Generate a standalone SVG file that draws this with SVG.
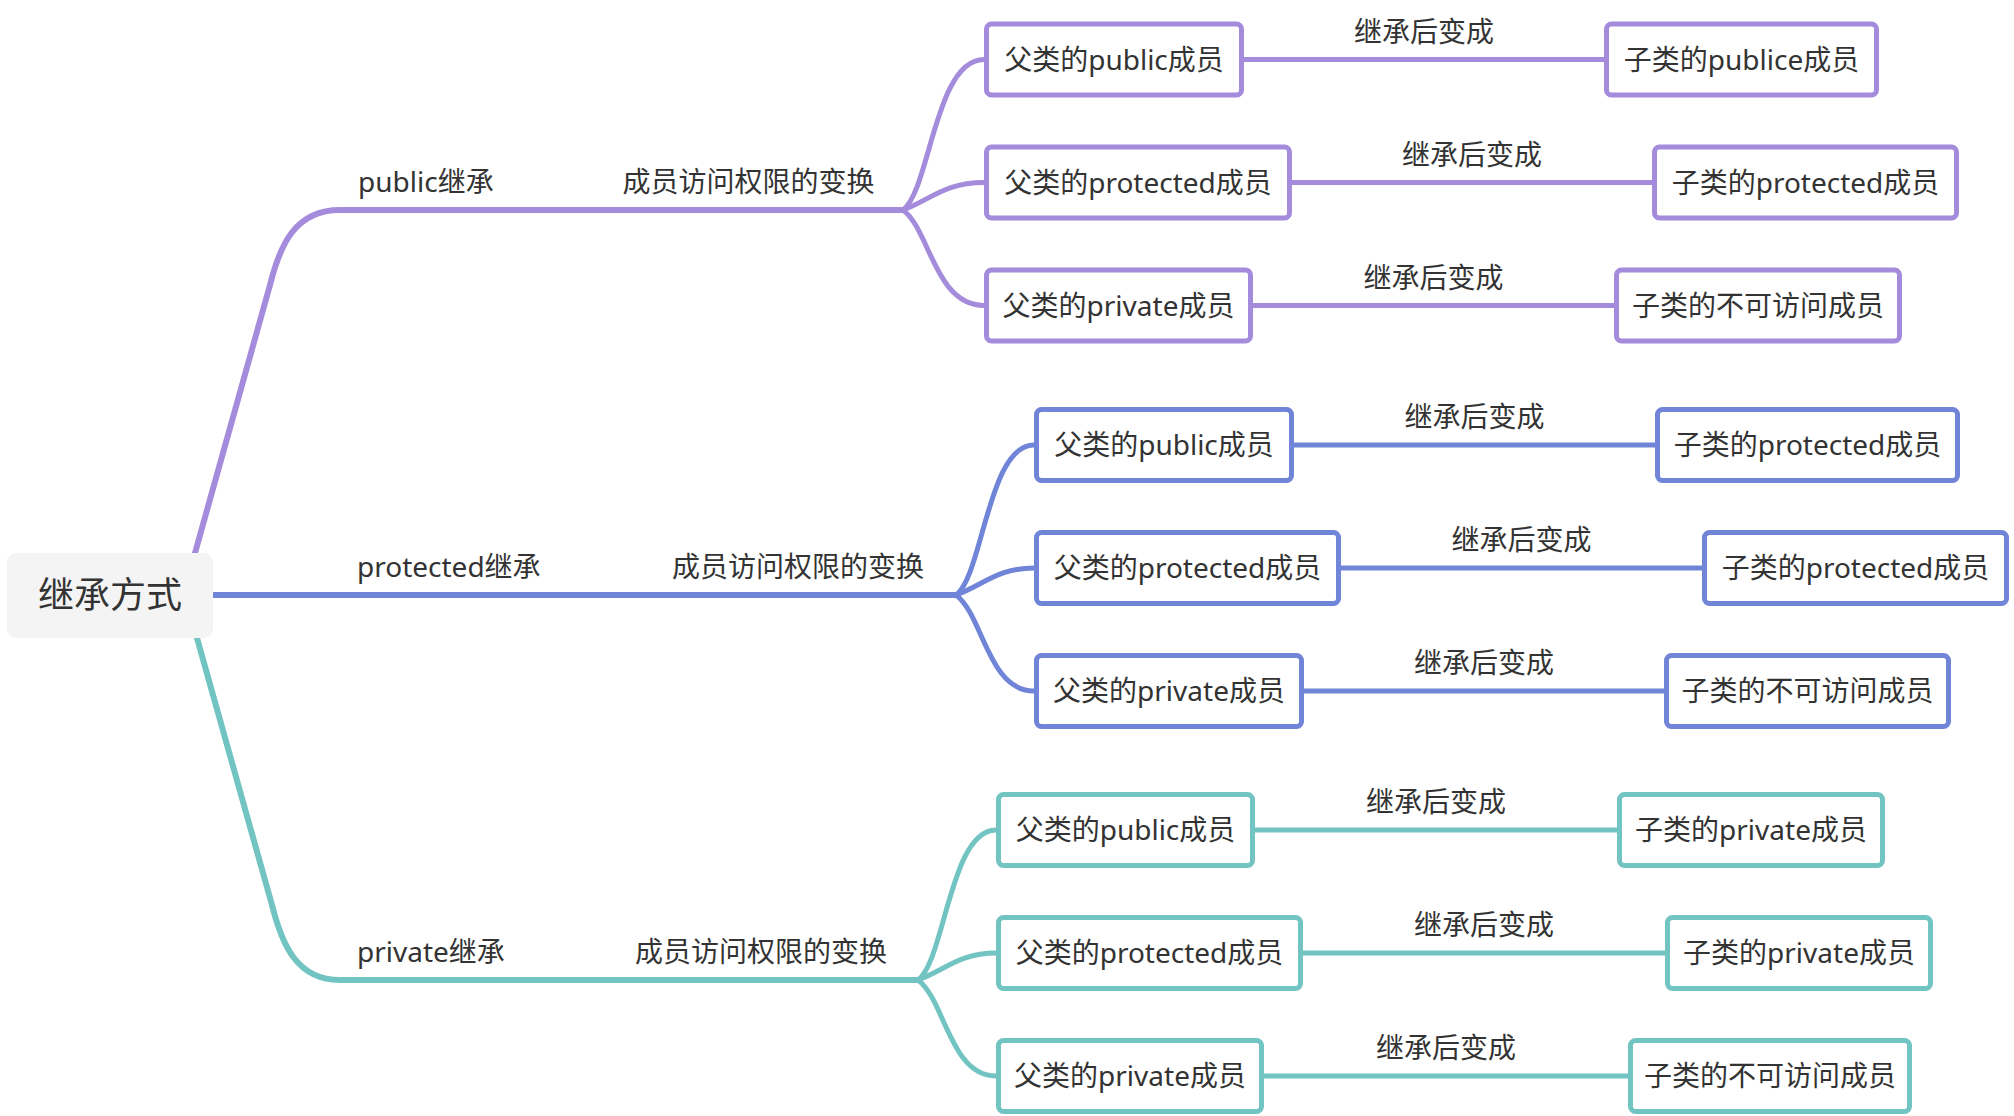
<svg xmlns="http://www.w3.org/2000/svg" width="2014" height="1116" viewBox="0 0 2014 1116">
<style>
text{font-family:"Noto Sans","Noto Sans CJK SC",sans-serif;fill:#333;font-size:28px}
.t{text-anchor:middle}
.root{font-size:36px;text-anchor:middle}
.box{fill:#fff;stroke-width:5}
.pu .box{stroke:#a48bdc}
.bl .box{stroke:#7085d8}
.te .box{stroke:#72c4c3}
.c{fill:none;stroke-width:5;stroke-linecap:round}
.m{stroke-width:6}
.cp{stroke:#a48bdc}
.cb{stroke:#7085d8}
.ct{stroke:#72c4c3}
</style>
<rect width="2014" height="1116" fill="#fff"/>
<g id="connectors">
<path class="c m cp" d="M195 553 L270 285 C280 245 295 210 340 210 L903 210"/>
<path class="c m cb" d="M213 595 L956 595"/>
<path class="c m ct" d="M197 638 L272 905 C282 945 297 980 340 980 L918 980"/>
<path class="c cp" d="M903 210 C930 190 935 59.5 984 59.5"/>
<path class="c cp" d="M903 210 C930 200 945 182.5 984 182.5"/>
<path class="c cp" d="M903 210 C930 230 935 305.5 984 305.5"/>
<path class="c cb" d="M956 595 C983 575 988 445 1034 445"/>
<path class="c cb" d="M956 595 C983 585 998 568 1034 568"/>
<path class="c cb" d="M956 595 C983 615 988 691 1034 691"/>
<path class="c ct" d="M918 980 C945 960 950 830 996 830"/>
<path class="c ct" d="M918 980 C945 970 960 953 996 953"/>
<path class="c ct" d="M918 980 C945 1000 950 1076 996 1076"/>
<path class="c cp" d="M1244 59.5 H1604 M1292 182.5 H1652 M1253 305.5 H1614"/>
<path class="c cb" d="M1294 445 H1655 M1341 568 H1702 M1304 691 H1664"/>
<path class="c ct" d="M1255 830 H1617 M1303 953 H1665 M1264 1076 H1628"/>
<text class="t" x="1424" y="41.5">继承后变成</text>
<text class="t" x="1472" y="164.5">继承后变成</text>
<text class="t" x="1433.5" y="287.5">继承后变成</text>
<text class="t" x="1474.5" y="427">继承后变成</text>
<text class="t" x="1521.5" y="550">继承后变成</text>
<text class="t" x="1484" y="673">继承后变成</text>
<text class="t" x="1436" y="812">继承后变成</text>
<text class="t" x="1484" y="935">继承后变成</text>
<text class="t" x="1446" y="1058">继承后变成</text>
</g>
<g id="root">
<rect x="7" y="553" width="206" height="85" rx="9" fill="#f4f4f4"/>
<text class="root" x="110" y="608">继承方式</text>
</g>
<g id="public-branch" class="pu">
<text x="358" y="192">public继承</text>
<text class="t" x="748.5" y="192">成员访问权限的变换</text>
</g>
<g id="protected-branch" class="bl">
<text x="357" y="577">protected继承</text>
<text class="t" x="798" y="577">成员访问权限的变换</text>
</g>
<g id="private-branch" class="te">
<text x="357" y="962">private继承</text>
<text class="t" x="761" y="962">成员访问权限的变换</text>
</g>
<g id="p-l1" class="pu"><rect class="box" x="986.5" y="24" width="255" height="71" rx="5"/><text class="t" x="1114" y="69.5">父类的public成员</text></g>
<g id="p-l2" class="pu"><rect class="box" x="986.5" y="147" width="303" height="71" rx="5"/><text class="t" x="1138" y="192.5">父类的protected成员</text></g>
<g id="p-l3" class="pu"><rect class="box" x="986.5" y="270" width="264" height="71" rx="5"/><text class="t" x="1118.5" y="315.5">父类的private成员</text></g>
<g id="p-r1" class="pu"><rect class="box" x="1606.5" y="24" width="270" height="71" rx="5"/><text class="t" x="1741.5" y="69.5">子类的publice成员</text></g>
<g id="p-r2" class="pu"><rect class="box" x="1654.5" y="147" width="302" height="71" rx="5"/><text class="t" x="1805.5" y="192.5">子类的protected成员</text></g>
<g id="p-r3" class="pu"><rect class="box" x="1616.5" y="270" width="283" height="71" rx="5"/><text class="t" x="1758" y="315.5">子类的不可访问成员</text></g>
<g id="b-l1" class="bl"><rect class="box" x="1036.5" y="409.5" width="255" height="71" rx="5"/><text class="t" x="1164" y="455">父类的public成员</text></g>
<g id="b-l2" class="bl"><rect class="box" x="1036.5" y="532.5" width="302" height="71" rx="5"/><text class="t" x="1187.5" y="578">父类的protected成员</text></g>
<g id="b-l3" class="bl"><rect class="box" x="1036.5" y="655.5" width="265" height="71" rx="5"/><text class="t" x="1169" y="701">父类的private成员</text></g>
<g id="b-r1" class="bl"><rect class="box" x="1657.5" y="409.5" width="300" height="71" rx="5"/><text class="t" x="1807.5" y="455">子类的protected成员</text></g>
<g id="b-r2" class="bl"><rect class="box" x="1704.5" y="532.5" width="302" height="71" rx="5"/><text class="t" x="1855.5" y="578">子类的protected成员</text></g>
<g id="b-r3" class="bl"><rect class="box" x="1666.5" y="655.5" width="282" height="71" rx="5"/><text class="t" x="1807.5" y="701">子类的不可访问成员</text></g>
<g id="t-l1" class="te"><rect class="box" x="998.5" y="794.5" width="254" height="71" rx="5"/><text class="t" x="1125.5" y="840">父类的public成员</text></g>
<g id="t-l2" class="te"><rect class="box" x="998.5" y="917.5" width="302" height="71" rx="5"/><text class="t" x="1149.5" y="963">父类的protected成员</text></g>
<g id="t-l3" class="te"><rect class="box" x="998.5" y="1040.5" width="263" height="71" rx="5"/><text class="t" x="1130" y="1086">父类的private成员</text></g>
<g id="t-r1" class="te"><rect class="box" x="1619.5" y="794.5" width="263" height="71" rx="5"/><text class="t" x="1751" y="840">子类的private成员</text></g>
<g id="t-r2" class="te"><rect class="box" x="1667.5" y="917.5" width="263" height="71" rx="5"/><text class="t" x="1799" y="963">子类的private成员</text></g>
<g id="t-r3" class="te"><rect class="box" x="1630.5" y="1040.5" width="279" height="71" rx="5"/><text class="t" x="1770" y="1086">子类的不可访问成员</text></g>
</svg>
